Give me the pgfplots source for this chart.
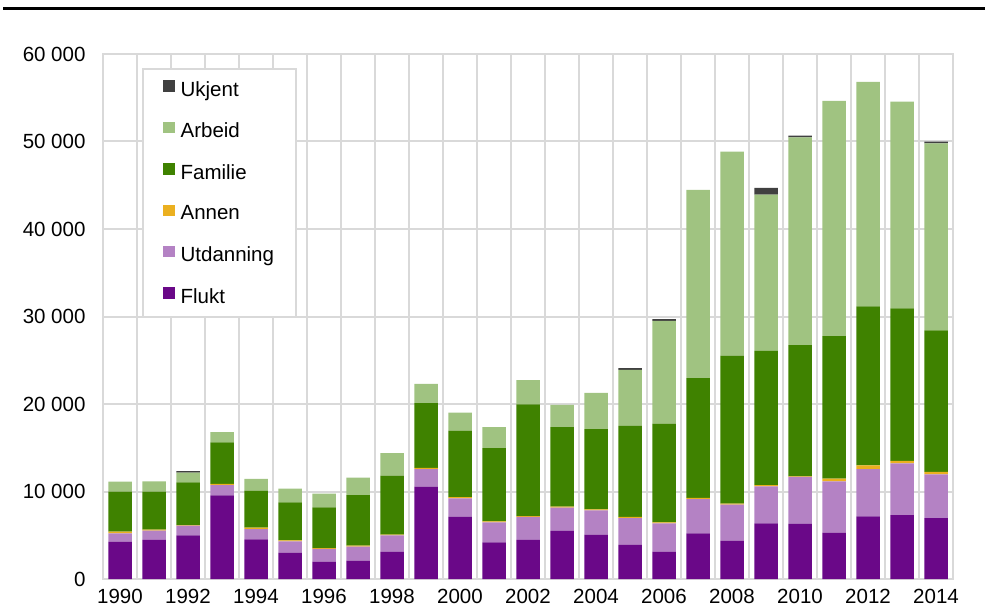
\documentclass[border=0pt]{standalone}
\usepackage{fontspec}
\setmainfont{Liberation Sans}
\usepackage{pgfplots}
\usepackage{pgfplotstable}
\pgfplotsset{compat=1.18}
\definecolor{cFlukt}{RGB}{106,8,136}
\definecolor{cUtd}{RGB}{180,130,196}
\definecolor{cAnnen}{RGB}{235,176,32}
\definecolor{cFam}{RGB}{63,130,0}
\definecolor{cArb}{RGB}{160,195,129}
\definecolor{cUkj}{RGB}{64,64,64}
\definecolor{cGrid}{RGB}{217,217,217}
\pgfplotstableread{
year F U A Fa Ar Uk
1990 4260 960 190 4570 1140 0
1991 4460 1060 120 4340 1180 0
1992 4990 1110 70 4880 1100 190
1993 9560 1180 120 4760 1180 0
1994 4530 1180 160 4230 1330 0
1995 3010 1290 120 4340 1560 0
1996 1980 1450 110 4650 1560 0
1997 2100 1600 110 5790 1980 0
1998 3090 1900 80 6740 2590 0
1999 10550 2020 120 7420 2180 0
2000 7120 2100 150 7580 2060 0
2001 4190 2290 110 8380 2400 0
2002 4460 2630 110 12760 2780 0
2003 5490 2660 120 9100 2520 0
2004 5070 2780 110 9180 4120 0
2005 3890 3080 120 10400 6400 210
2006 3120 3240 120 11270 11740 210
2007 5220 3920 120 13700 21500 0
2008 4380 4110 120 16910 23320 0
2009 6360 4230 150 15320 17860 770
2010 6290 5370 80 15000 23740 190
2011 5300 5860 310 16300 26860 0
2012 7160 5410 420 18170 25640 0
2013 7310 5910 270 17440 23620 0
2014 6970 4990 270 16190 21370 190
}\data
\begin{document}
\begin{tikzpicture}
\useasboundingbox (0,0) rectangle (985pt,614pt);
\draw[line width=3.3pt] (3pt,605.7pt) -- (985pt,605.7pt);
\begin{axis}[
  at={(103pt,35pt)}, anchor=south west,
  scale only axis, width=850pt, height=525pt,
  ybar stacked, bar width=23.5pt,
  xmin=1989.5, xmax=2014.5, ymin=0, ymax=60000,
  xtick={1990,1992,...,2014},
  minor xtick={1989.5,1990.5,...,2014.5},
  ytick={0,10000,...,60000},
  xmajorgrids=false, xminorgrids=true, ymajorgrids=true,
  major grid style={draw=cGrid, line width=2pt},
  minor grid style={draw=cGrid, line width=2pt},
  axis line style={draw=cGrid, line width=2pt},
  major tick length=0pt, minor tick length=0pt,
  tick style={draw=none},
  font=\fontsize{20.5}{24}\selectfont,
  ticklabel style={font=\fontsize{20.5}{24}\selectfont},
  /pgf/number format/assume math mode=true,
  scaled y ticks=false,
  yticklabel={\pgfmathprintnumber[1000 sep={\space}]{\tick}},
  xticklabel={\pgfmathprintnumber[1000 sep={}]{\tick}},
  yticklabel style={xshift=-14pt},
  xticklabel style={yshift=-6.5pt},
  legend cell align=left,
  reverse legend,
  legend image code/.code={\fill[#1] (0pt,-2.5pt) rectangle (11.5pt,9pt);},
  legend style={at={(0.046,0.973)}, anchor=north west, draw=cGrid, line width=2pt,
    fill=white, font=\fontsize{20.5}{24}\selectfont, row sep=21.2pt,
    column sep=4pt,
    inner xsep=20pt, inner ysep=10pt},
]
\addplot[fill=cFlukt, draw=none] table[x=year,y=F] {\data};
\addlegendentry{Flukt}
\addplot[fill=cUtd, draw=none] table[x=year,y=U] {\data};
\addlegendentry{Utdanning}
\addplot[fill=cAnnen, draw=none] table[x=year,y=A] {\data};
\addlegendentry{Annen}
\addplot[fill=cFam, draw=none] table[x=year,y=Fa] {\data};
\addlegendentry{Familie}
\addplot[fill=cArb, draw=none] table[x=year,y=Ar] {\data};
\addlegendentry{Arbeid}
\addplot[fill=cUkj, draw=none] table[x=year,y=Uk] {\data};
\addlegendentry{Ukjent}
\end{axis}
\end{tikzpicture}
\end{document}
